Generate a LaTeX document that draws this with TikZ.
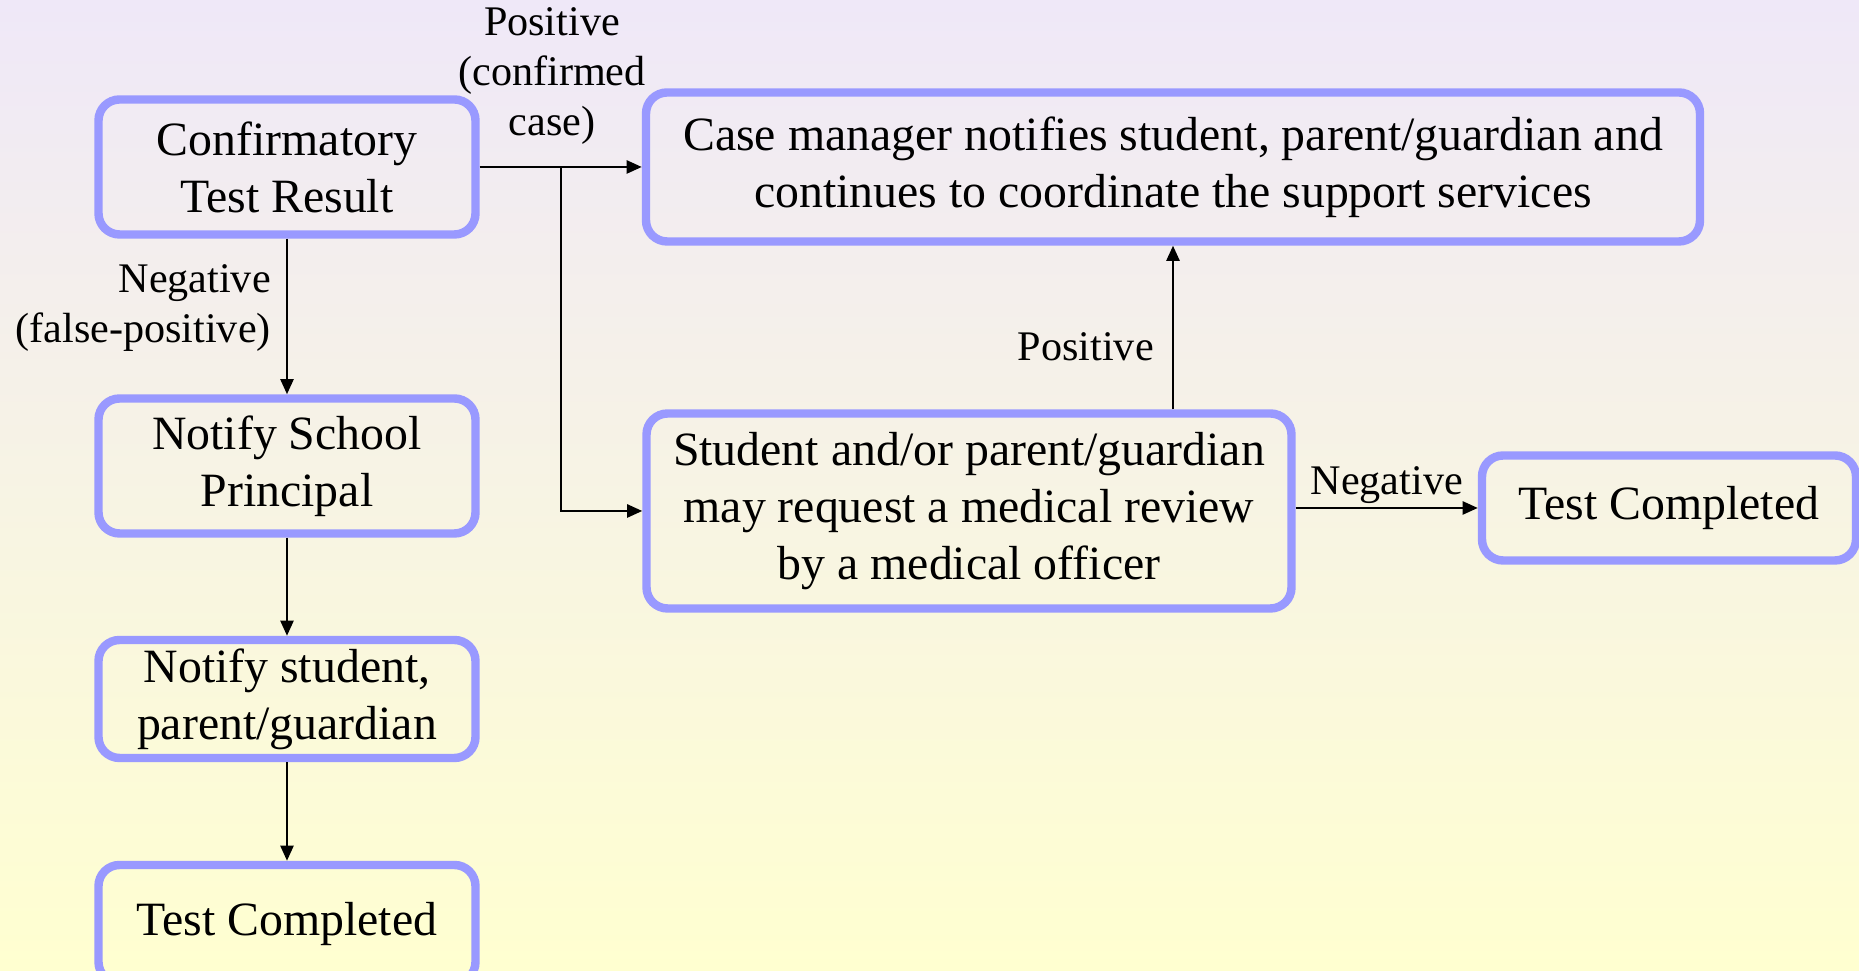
\documentclass[tikz,border=0pt]{standalone}
\usepackage{fontspec}
\setmainfont{Liberation Serif}
\usetikzlibrary{arrows.meta}

\definecolor{boxblue}{RGB}{153,153,255}
\definecolor{bgtop}{RGB}{239,232,248}
\definecolor{bgbottom}{RGB}{255,255,208}

\tikzset{
  flowbox/.style={draw=boxblue, line width=2.4pt, rounded corners=6pt,
    align=center, inner sep=2pt, font=\fontsize{13.6}{16.2}\selectfont},
  lbl/.style={font=\fontsize{12}{14.3}\selectfont, align=center, inner sep=1pt},
  flow/.style={-{Triangle[length=4.3pt,width=3.7pt]}, line width=0.7pt},
}

\begin{document}
\begin{tikzpicture}
% 背景
\useasboundingbox (0,0) rectangle (18.59,9.71);
\clip (0,0) rectangle (18.59,9.71);
\shade[top color=bgtop, bottom color=bgbottom] (0,0) rectangle (18.59,9.71);

% 左列的方框
\node[flowbox, minimum width=3.77cm, minimum height=1.35cm] (confirm) at (2.87,8.04) {Confirmatory\\Test Result};
\node[flowbox, minimum width=3.77cm, minimum height=1.35cm] (principal) at (2.87,5.05) {Notify School\\Principal};
\node[flowbox, minimum width=3.77cm, minimum height=1.18cm] (notify) at (2.87,2.72) {Notify student,\\parent/guardian};
\node[flowbox, minimum width=3.77cm, minimum height=1.18cm] (doneleft) at (2.87,0.47) {Test Completed};

% 右侧的方框
\node[flowbox, minimum width=10.54cm, minimum height=1.49cm] (casemgr) at (11.73,8.04) {Case manager notifies student, parent/guardian and\\continues to coordinate the support services};
\node[flowbox, minimum width=6.45cm, minimum height=1.95cm] (review) at (9.69,4.60) {Student and/or parent/guardian\\may request a medical review\\by a medical officer};
\node[flowbox, minimum width=3.74cm, minimum height=1.05cm] (doneright) at (16.69,4.63) {Test Completed};

% 左列的连线
\draw[flow] (confirm) -- (principal);
\draw[flow] (principal) -- (notify);
\draw[flow] (notify) -- (doneleft);
\node[lbl, align=right, anchor=east] (neglabel) at (2.75,6.63) {Negative\\(false-positive)};

% 阳性结果的分支
\coordinate (split) at (5.61,8.04);
\draw[flow] (confirm) -- (casemgr);
\draw[flow] (split) |- (review.west);
\node[lbl] (poslabel) at (5.52,8.95) {Positive\\(confirmed\\case)};

% 医学复查之后
\draw[flow] (review.north -| casemgr.south) -- (casemgr.south);
\node[lbl, anchor=east] (reviewpos) at (11.58,6.24) {Positive};
\draw[flow] (review.east |- doneright) -- node[lbl, above] (reviewneg) {Negative} (doneright);

\end{tikzpicture}
\end{document}
